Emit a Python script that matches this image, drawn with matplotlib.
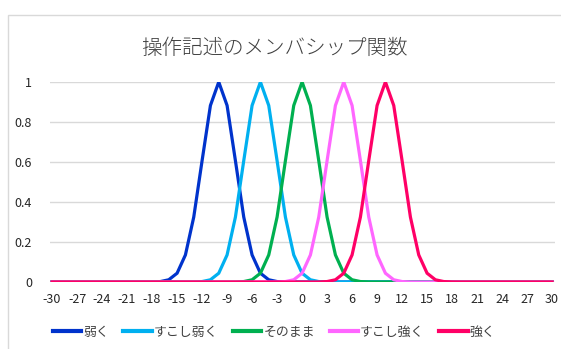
import matplotlib
matplotlib.use("Agg")
import matplotlib.pyplot as plt
from matplotlib.patches import Rectangle

plt.rcParams['font.family'] = ['Noto Sans CJK JP', 'DejaVu Sans']

x_values = list(range(-30, 31))
x_tick_labels = list(range(-30, 31, 3))
y_ticks = [0, 0.2, 0.4, 0.6, 0.8, 1]

weak = [0.0] * 12 + [0.0003, 0.0022, 0.0111, 0.0439, 0.1353, 0.3247, 0.6065, 0.8825, 1.0,
                     0.8825, 0.6065, 0.3247, 0.1353, 0.0439, 0.0111, 0.0022, 0.0003] + [0.0] * 32
slightly_weak = [0.0] * 17 + [0.0003, 0.0022, 0.0111, 0.0439, 0.1353, 0.3247, 0.6065, 0.8825, 1.0,
                              0.8825, 0.6065, 0.3247, 0.1353, 0.0439, 0.0111, 0.0022, 0.0003] + [0.0] * 27
as_is = [0.0] * 22 + [0.0003, 0.0022, 0.0111, 0.0439, 0.1353, 0.3247, 0.6065, 0.8825, 1.0,
                      0.8825, 0.6065, 0.3247, 0.1353, 0.0439, 0.0111, 0.0022, 0.0003] + [0.0] * 22
slightly_strong = [0.0] * 27 + [0.0003, 0.0022, 0.0111, 0.0439, 0.1353, 0.3247, 0.6065, 0.8825, 1.0,
                                0.8825, 0.6065, 0.3247, 0.1353, 0.0439, 0.0111, 0.0022, 0.0003] + [0.0] * 17
strong = [0.0] * 32 + [0.0003, 0.0022, 0.0111, 0.0439, 0.1353, 0.3247, 0.6065, 0.8825, 1.0,
                       0.8825, 0.6065, 0.3247, 0.1353, 0.0439, 0.0111, 0.0022, 0.0003] + [0.0] * 12

series_names = ['弱く', 'すこし弱く', 'そのまま', 'すこし強く', '強く']
series_values = [weak, slightly_weak, as_is, slightly_strong, strong]
series_colors = ['#0033CC', '#00B0F0', '#00B050', '#FF66FF', '#FF0066']

W, H = 561, 349
fig = plt.figure(figsize=(W / 100, H / 100), dpi=100)

# chart-area border
fig.patches.append(Rectangle((8 / W, -0.1), 1.2, 1 - 15 / H + 0.1, transform=fig.transFigure,
                             fill=False, edgecolor='#D9D9D9', linewidth=1.0))

ax = fig.add_axes([50 / W, 1 - 282 / H, 505 / W, 200 / H])
for vals, name, col in zip(series_values, series_names, series_colors):
    ax.plot(x_values, vals, color=col, linewidth=2.3, label=name, solid_joinstyle='miter')

ax.set_xlim(-30.25, 30.35)
ax.set_ylim(0, 1)
ax.set_xticks(x_tick_labels)
ax.set_xticklabels([str(v) for v in x_tick_labels])
ax.set_yticks(y_ticks)
ax.set_yticklabels(['0', '0.2', '0.4', '0.6', '0.8', '1'])
ax.tick_params(axis='both', length=0, labelsize=9, colors='#262626')
ax.tick_params(axis='x', pad=8)
ax.tick_params(axis='y', pad=13)
ax.grid(axis='y', color='#D9D9D9', linewidth=1.0)
ax.set_axisbelow(True)
for s in ax.spines.values():
    s.set_visible(False)

fig.text(274 / W, 1 - 48 / H, '操作記述のメンバシップ関数', ha='center', va='center',
         fontsize=14.8, fontweight='light', color='#404040')

leg = fig.legend(loc='center', bbox_to_anchor=(274 / W, 1 - 332 / H), ncol=5, frameon=False,
                 fontsize=9.3, handlelength=2.2, handletextpad=0.15, columnspacing=1.15)
for t in leg.get_texts():
    t.set_color('#404040')
for h in leg.get_lines():
    h.set_linewidth(3)

fig.savefig('out.png', dpi=100)
